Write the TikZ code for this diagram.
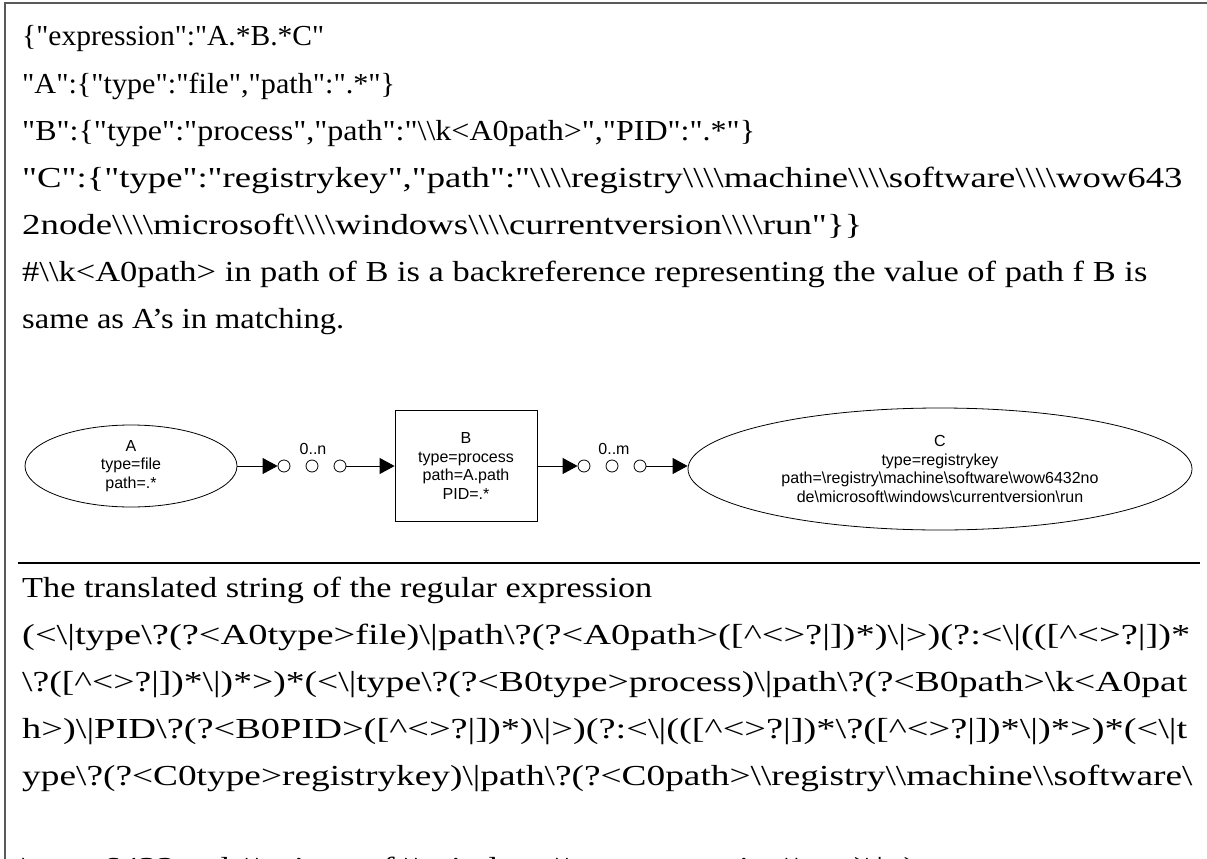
\documentclass[tikz,border=0pt]{standalone}
\usepackage{graphicx}
\usepackage{fontspec}
\newfontfamily\txtfont{Liberation Serif}
\newfontfamily\dgmfont{Liberation Sans}
\usetikzlibrary{arrows.meta,shapes.geometric}
\newcommand\bs{\textbackslash}
\newcommand\ca{\textasciicircum}
\newcommand\fitw[2]{\resizebox{#1pt}{\height}{#2}}
\begin{document}
\begin{tikzpicture}[x=1pt,y=-1pt,
  textline/.style={anchor=base west, inner sep=0pt, font=\txtfont\fontsize{29}{32}\selectfont},
  lbl/.style={font=\dgmfont\fontsize{16}{18.5}\selectfont, align=center},
  entity/.style={draw, ellipse, inner sep=0pt, line width=0.8pt, lbl},
  boxent/.style={draw, rectangle, inner sep=0pt, line width=0.8pt, lbl},
  dot/.style={draw, circle, minimum size=12pt, inner sep=0pt, line width=0.8pt},
  arr/.style={line width=0.9pt, -{Triangle[length=15pt,width=16pt]}}
]
\useasboundingbox (0,0) rectangle (1207,859);
\fill[white] (0,0) rectangle (1207,859);
\draw[black!65, line width=1.6pt] (5,859) -- (5,3) -- (1207,3);

\node[textline] (l1) at (22,46) {\fitw{302}{\{"expression":"A.*B.*C"}};
\node[textline] (l2) at (22,93) {\fitw{373}{"A":\{"type":"file","path":".*"\}}};
\node[textline] (l3) at (22,140) {\fitw{733}{"B":\{"type":"process","path":"\bs\bs k<A0path>","PID":".*"\}}};
\node[textline] (l4) at (22,187) {\fitw{1160}{"C":\{"type":"registrykey","path":"\bs\bs\bs\bs registry\bs\bs\bs\bs machine\bs\bs\bs\bs software\bs\bs\bs\bs wow643}};
\node[textline] (l5) at (22,234) {\fitw{840}{2node\bs\bs\bs\bs microsoft\bs\bs\bs\bs windows\bs\bs\bs\bs currentversion\bs\bs\bs\bs run"\}\}}};
\node[textline] (l6) at (22,281) {\fitw{1125}{\#\bs\bs k<A0path> in path of B is a backreference representing the value of path f B is}};
\node[textline] (l7) at (22,328) {\fitw{322}{same as A’s in matching.}};

\node[entity, minimum width=212pt, minimum height=82pt] (A) at (131,466) {A\\type=file\\path=.*};
\node[boxent, minimum width=142pt, minimum height=111pt] (B) at (466,466) {B\\type=process\\path=A.path\\PID=.*};
\node[entity, minimum width=504pt, minimum height=122pt] (C) at (940,469) {C\\type=registrykey\\path=\bs registry\bs machine\bs software\bs wow6432no\\de\bs microsoft\bs windows\bs currentversion\bs run};

\node[dot] (c1) at (284,466) {};
\node[dot] (c2) at (312,466) {};
\node[dot] (c3) at (340,466) {};
\node[dot] (c4) at (584,466) {};
\node[dot] (c5) at (612,466) {};
\node[dot] (c6) at (640,466) {};
\node[lbl] (n) at (313,449) {0..n};
\node[lbl] (m) at (614,449) {0..m};

\draw[arr] (A.east) -- (c1.west);
\draw[arr] (c3.east) -- (c3.east -| B.west);
\draw[arr] (B.east |- c4) -- (c4.west);
\draw[arr] (c6.east) -- (c6.east -| C.west);

\draw[line width=2pt] (18,563) -- (1200,563);

\node[textline] (l8) at (22,597) {\fitw{630}{The translated string of the regular expression}};
\node[textline] (l9) at (22,644) {\fitw{1168}{(<\bs|type\bs?(?<A0type>file)\bs|path\bs?(?<A0path>([\ca<>?|])*)\bs|>)(?:<\bs|(([\ca<>?|])*}};
\node[textline] (l10) at (22,691) {\fitw{1165}{\bs?([\ca<>?|])*\bs|)*>)*(<\bs|type\bs?(?<B0type>process)\bs|path\bs?(?<B0path>\bs k<A0pat}};
\node[textline] (l11) at (22,738) {\fitw{1165}{h>)\bs|PID\bs?(?<B0PID>([\ca<>?|])*)\bs|>)(?:<\bs|(([\ca<>?|])*\bs?([\ca<>?|])*\bs|)*>)*(<\bs|t}};
\node[textline] (l12) at (22,785) {\fitw{1170}{ype\bs?(?<C0type>registrykey)\bs|path\bs?(?<C0path>\bs\bs registry\bs\bs machine\bs\bs software\bs}};
\node[textline] (l13) at (22,877) {\scalebox{1.25}[1]{\bs wow6432node\bs\bs microsoft\bs\bs windows\bs\bs currentversion\bs\bs run)\bs|>)}};
\end{tikzpicture}
\end{document}
